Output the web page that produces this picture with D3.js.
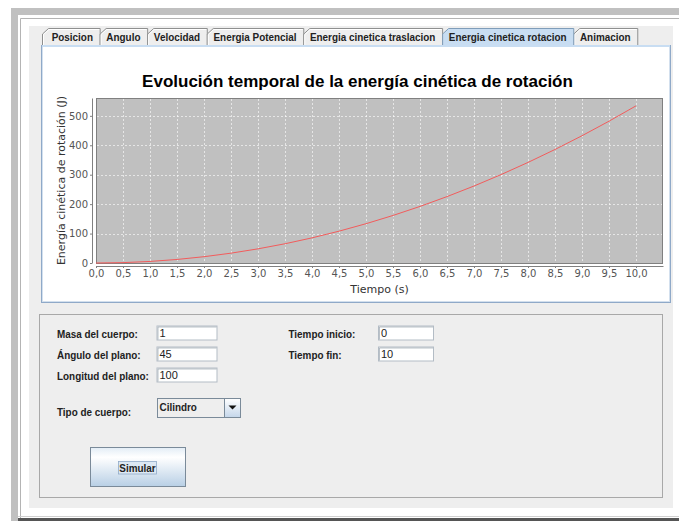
<!DOCTYPE html>
<html>
<head>
<meta charset="utf-8">
<script src="https://cdn.jsdelivr.net/npm/d3@7"></script>
<style>
  body { margin: 0; background: #fff; }
  svg { display: block; }
</style>
</head>
<body>
<div id="app"></div>
<script>
// valores
const tiempo = [0, 0.5, 1, 1.5, 2, 2.5, 3, 3.5, 4, 4.5, 5, 5.5, 6, 6.5, 7, 7.5, 8, 8.5, 9, 9.5, 10];
const energia = [0, 1.3, 5.3, 12.0, 21.4, 33.4, 48.1, 65.4, 85.4, 108.1, 133.5, 161.5,
                 192.2, 225.6, 261.6, 300.3, 341.7, 385.7, 432.4, 481.8, 533.9];
const xTicks = [0, 0.5, 1, 1.5, 2, 2.5, 3, 3.5, 4, 4.5, 5, 5.5, 6, 6.5, 7, 7.5, 8, 8.5, 9, 9.5, 10];
const yTicks = [0, 100, 200, 300, 400, 500];

const titulo = "Evolución temporal de la energía cinética de rotación";
const etiquetaX = "Tiempo (s)";
const etiquetaY = "Energía cinética de rotación (J)";

const pestanas = ["Posicion", "Angulo", "Velocidad", "Energia Potencial",
                  "Energia cinetica traslacion", "Energia cinetica rotacion", "Animacion"];
const pestanaActiva = 5;

const camposIzq = ["Masa del cuerpo:", "Ángulo del plano:", "Longitud del plano:"];
const valoresIzq = ["1", "45", "100"];
const camposDer = ["Tiempo inicio:", "Tiempo fin:"];
const valoresDer = ["0", "10"];
const tipoCuerpo = "Cilindro";
const boton = "Simular";

const fuenteUI = "'Liberation Sans', Arial, sans-serif";
const fuenteEje = "'DejaVu Sans', sans-serif";

const svg = d3.select("#app").append("svg")
  .attr("width", 679)
  .attr("height", 521);

const defs = svg.append("defs");
const gradBoton = defs.append("linearGradient").attr("id", "gradBoton")
  .attr("x1", 0).attr("y1", 0).attr("x2", 0).attr("y2", 1);
gradBoton.append("stop").attr("offset", "0%").attr("stop-color", "#e3edf6");
gradBoton.append("stop").attr("offset", "25%").attr("stop-color", "#ffffff");
gradBoton.append("stop").attr("offset", "100%").attr("stop-color", "#b8cfe5");

const gradFlecha = defs.append("linearGradient").attr("id", "gradFlecha")
  .attr("x1", 0).attr("y1", 0).attr("x2", 0).attr("y2", 1);
gradFlecha.append("stop").attr("offset", "0%").attr("stop-color", "#ffffff");
gradFlecha.append("stop").attr("offset", "100%").attr("stop-color", "#c4d6ea");

// texto bold algo estrecho, como el de Swing
function condensar(sel, k) {
  sel.each(function () {
    const l = this.getComputedTextLength();
    d3.select(this).attr("textLength", l * k).attr("lengthAdjust", "spacingAndGlyphs");
  });
}

// marco de la ventana
svg.append("rect").attr("x", 11).attr("y", 8).attr("width", 668).attr("height", 7).attr("fill", "#c0c0c0");
svg.append("rect").attr("x", 11).attr("y", 8).attr("width", 7).attr("height", 513).attr("fill", "#c0c0c0");
svg.append("path").attr("d", "M20.5,521V18.5H679").attr("fill", "none").attr("stroke", "#b4b4b4");
svg.append("rect").attr("x", 29).attr("y", 26).attr("width", 644).attr("height", 482).attr("fill", "#eeeeee");
svg.append("line").attr("x1", 18).attr("x2", 679).attr("y1", 516.5).attr("y2", 516.5).attr("stroke", "#d0d0d0");
svg.append("rect").attr("x", 18).attr("y", 518).attr("width", 661).attr("height", 3).attr("fill", "#555555");

// pestanas
const gTabs = svg.append("g");
let tx = 42;
const tabs = pestanas.map((nombre, i) => {
  const tmp = gTabs.append("text").text(nombre)
    .style("font", `bold 11px ${fuenteUI}`);
  const l = tmp.node().getComputedTextLength() * 0.9;
  tmp.remove();
  const w = l + 13.4 + (i === 0 ? 3 : 0);
  const t = { nombre, i, x: tx, w, l };
  tx += w;
  return t;
});

function dibujarTab(t) {
  const activa = t.i === pestanaActiva;
  const g = gTabs.append("g");
  const x0 = t.x + 0.5, x1 = t.x + t.w + 0.5;
  g.append("path")
    .attr("d", `M${x0},46V34L${x0 + 6},28.5H${x1}V46`)
    .attr("fill", activa ? "#c8ddf2" : "#eeeeee")
    .attr("stroke", activa ? "#7f9db9" : "#8e8f8f");
  if (!activa) {
    g.append("path")
      .attr("d", `M${x0 + 1},45V34.5L${x0 + 6.5},29.5H${x1 - 1}`)
      .attr("fill", "none").attr("stroke", "#ffffff");
  }
  const txt = g.append("text")
    .attr("x", t.x + t.w / 2 + (t.i === 0 ? 1.5 : 0))
    .attr("y", 40.5)
    .attr("text-anchor", "middle")
    .style("font", `bold 11px ${fuenteUI}`)
    .attr("fill", "#222")
    .text(t.nombre);
  txt.attr("textLength", t.l).attr("lengthAdjust", "spacingAndGlyphs");
}
tabs.filter(t => t.i !== pestanaActiva).forEach(dibujarTab);

// panel del grafico
svg.append("rect").attr("x", 41.5).attr("y", 45.5).attr("width", 629).attr("height", 257)
  .attr("fill", "#ffffff").attr("stroke", "#8fa9c8");
svg.append("rect").attr("x", 42.5).attr("y", 46.5).attr("width", 627).attr("height", 255)
  .attr("fill", "none").attr("stroke", "#d3e0ee");
tabs.filter(t => t.i === pestanaActiva).forEach(dibujarTab);
svg.append("rect").attr("x", 42).attr("y", 45).attr("width", 628).attr("height", 2).attr("fill", "#c8ddf2");

// grafico
const plot = { left: 96, right: 663, top: 98, bottom: 263 };

const x = d3.scaleLinear()
  .domain([0, d3.max(tiempo) * 1.05])
  .range([plot.left, plot.right]);
const y = d3.scaleLinear()
  .domain([0, d3.max(energia) * 1.05])
  .range([plot.bottom, plot.top]);

const fmtEs = d3.formatLocale({ decimal: ",", thousands: ".", grouping: [3], currency: ["", "€"] });

svg.append("text")
  .attr("x", 357.5).attr("y", 86.5)
  .attr("text-anchor", "middle")
  .style("font", `bold 17px ${fuenteUI}`)
  .attr("fill", "#000")
  .text(titulo);

svg.append("rect")
  .attr("x", plot.left + 0.5).attr("y", plot.top + 0.5)
  .attr("width", plot.right - plot.left - 1).attr("height", plot.bottom - plot.top)
  .attr("fill", "#c0c0c0")
  .attr("stroke", "#808080");

// rejilla
svg.append("g").selectAll("line")
  .data(xTicks.filter(d => d > 0))
  .enter().append("line")
  .attr("x1", d => Math.round(x(d)) + 0.5).attr("x2", d => Math.round(x(d)) + 0.5)
  .attr("y1", plot.top + 1).attr("y2", plot.bottom)
  .attr("stroke", "#ffffff").attr("stroke-width", 0.6).attr("stroke-dasharray", "2,2");
svg.append("g").selectAll("line")
  .data(yTicks.filter(d => d > 0))
  .enter().append("line")
  .attr("x1", plot.left + 1).attr("x2", plot.right - 1)
  .attr("y1", d => Math.round(y(d)) + 0.5).attr("y2", d => Math.round(y(d)) + 0.5)
  .attr("stroke", "#ffffff").attr("stroke-width", 0.6).attr("stroke-dasharray", "2,2");

// ejes
const ejeX = svg.append("g")
  .attr("transform", `translate(0,${plot.bottom + 3})`)
  .call(d3.axisBottom(x).tickValues(xTicks).tickSize(2).tickSizeOuter(0).tickPadding(2)
    .tickFormat(fmtEs.format(".1f")));
const ejeY = svg.append("g")
  .attr("transform", `translate(${plot.left - 4},0)`)
  .call(d3.axisLeft(y).tickValues(yTicks).tickSize(2).tickSizeOuter(0).tickPadding(2)
    .tickFormat(d3.format("d")));

[ejeX, ejeY].forEach(eje => {
  eje.attr("font-family", fuenteEje).attr("font-size", 10);
  eje.select(".domain").attr("stroke", "#808080");
  eje.selectAll(".tick line").attr("stroke", "#808080");
  eje.selectAll(".tick text").attr("fill", "#555");
});

svg.append("text")
  .attr("x", (plot.left + plot.right) / 2).attr("y", 293)
  .attr("text-anchor", "middle")
  .style("font", `11px ${fuenteEje}`)
  .attr("fill", "#333")
  .text(etiquetaX);

svg.append("text")
  .attr("transform", `translate(65,${(plot.top + plot.bottom) / 2}) rotate(-90)`)
  .attr("text-anchor", "middle")
  .style("font", `11px ${fuenteEje}`)
  .attr("fill", "#333")
  .text(etiquetaY);

const linea = d3.line()
  .x((d, i) => x(tiempo[i]))
  .y(d => y(d));

svg.append("path")
  .datum(energia)
  .attr("d", linea)
  .attr("fill", "none")
  .attr("stroke", "#f25c5c")
  .attr("stroke-width", 1);

// formulario
svg.append("rect").attr("x", 39.5).attr("y", 314.5).attr("width", 623).attr("height", 183)
  .attr("fill", "none").attr("stroke", "#a8a8a8");

function campo(xc, yc, w, valor) {
  svg.append("rect").attr("x", xc + 0.5).attr("y", yc + 0.5).attr("width", w).attr("height", 14)
    .attr("fill", "#ffffff").attr("stroke", "#b3bcc5");
  svg.append("path").attr("d", `M${xc + 1.5},${yc + 14}V${yc + 1.5}H${xc + w}`)
    .attr("fill", "none").attr("stroke", "#8c97a2").attr("stroke-width", 0.6);
  svg.append("text").attr("x", xc + 3).attr("y", yc + 11.5)
    .style("font", `11px ${fuenteUI}`).attr("fill", "#222").text(valor);
}

function etiqueta(xc, yc, texto) {
  const t = svg.append("text").attr("x", xc).attr("y", yc)
    .style("font", `bold 11px ${fuenteUI}`).attr("fill", "#222").text(texto);
  condensar(t, 0.9);
}

camposIzq.forEach((c, i) => {
  etiqueta(57, 337.5 + i * 21, c);
  campo(156.5, 325.5 + i * 21, 60, valoresIzq[i]);
});
camposDer.forEach((c, i) => {
  etiqueta(288.5, 337.5 + i * 21, c);
  campo(378, 325.5 + i * 21, 55, valoresDer[i]);
});

etiqueta(57, 415.5, "Tipo de cuerpo:");
// combo
svg.append("rect").attr("x", 157.5).attr("y", 398.5).attr("width", 83).attr("height", 19)
  .attr("fill", "#eeeeee").attr("stroke", "#7a8a99");
svg.append("rect").attr("x", 224.5).attr("y", 398.5).attr("width", 16).attr("height", 19)
  .attr("fill", "url(#gradFlecha)").attr("stroke", "#7a8a99");
svg.append("path").attr("d", "M228.5,405.5h8l-4,4z").attr("fill", "#111");
const tc = svg.append("text").attr("x", 159.5).attr("y", 411)
  .style("font", `bold 11px ${fuenteUI}`).attr("fill", "#222").text(tipoCuerpo);
condensar(tc, 0.9);

// boton
svg.append("rect").attr("x", 90.5).attr("y", 447.5).attr("width", 95).attr("height", 39)
  .attr("fill", "url(#gradBoton)").attr("stroke", "#7a8a99");
svg.append("rect").attr("x", 118.5).attr("y", 461.5).attr("width", 38).attr("height", 12.5)
  .attr("fill", "#dde8f3").attr("stroke", "#8faac7").attr("stroke-width", 0.8);
const tb = svg.append("text").attr("x", 137.5).attr("y", 471.5)
  .attr("text-anchor", "middle")
  .style("font", `bold 11px ${fuenteUI}`).attr("fill", "#222").text(boton);
condensar(tb, 0.9);
</script>
</body>
</html>
